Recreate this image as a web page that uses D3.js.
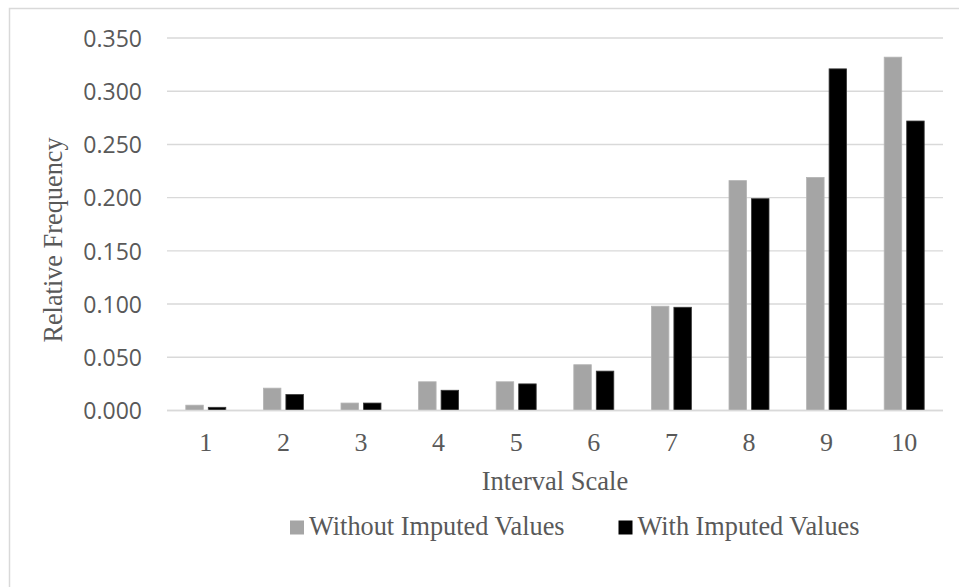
<!DOCTYPE html>
<html>
<head>
<meta charset="utf-8">
<script src="https://cdn.jsdelivr.net/npm/d3@7/dist/d3.min.js"></script>
<style>
  html, body { margin: 0; padding: 0; background: #fff; }
  svg { display: block; }
</style>
</head>
<body>
<svg id="chart" width="959" height="587"></svg>
<script>
// Interval scale categories and the relative frequency of each series
const categories = ["1", "2", "3", "4", "5", "6", "7", "8", "9", "10"];
const seriesNames = ["Without Imputed Values", "With Imputed Values"];
const withoutImputed = [0.005, 0.021, 0.007, 0.027, 0.027, 0.043, 0.098, 0.216, 0.219, 0.332];
const withImputed    = [0.003, 0.015, 0.007, 0.019, 0.025, 0.037, 0.097, 0.199, 0.321, 0.272];
const yTicks = [0, 0.05, 0.1, 0.15, 0.2, 0.25, 0.3, 0.35];

const fills = ["#a5a5a5", "#000000"];
const strokes = ["#b4b4b4", "#3a3a3a"];
const textColor = "#595959";
const gridColor = "#d9d9d9";

const svg = d3.select("#chart");

// chart frame
svg.append("rect")
  .attr("x", 9.5).attr("y", 8.5)
  .attr("width", 1000).attr("height", 700)
  .attr("fill", "none").attr("stroke", gridColor).attr("stroke-width", 1.5);

const plot = { left: 167, right: 943, top: 38, bottom: 410.5 };

const x = d3.scaleBand().domain(categories).range([plot.left, plot.right]).padding(0);
const y = d3.scaleLinear().domain([0, 0.35]).range([plot.bottom, plot.top]);
const xs = d3.scaleBand().domain(seriesNames).range([-20, 20]).paddingInner(0.222).paddingOuter(0);

// horizontal gridlines
svg.append("g").selectAll("line").data(yTicks).join("line")
  .attr("x1", plot.left).attr("x2", plot.right)
  .attr("y1", d => y(d)).attr("y2", d => y(d))
  .attr("stroke", gridColor).attr("stroke-width", 1.4);

// y axis tick labels
const yAxis = d3.axisLeft(y).tickValues(yTicks).tickFormat(d3.format(".3f")).tickSize(0).tickPadding(0);
const gy = svg.append("g").attr("transform", `translate(142,0)`).call(yAxis);
gy.select(".domain").remove();
gy.selectAll("text")
  .attr("fill", textColor)
  .attr("font-family", "'Open Sans', sans-serif")
  .attr("font-size", "23px")
  .attr("dy", "0.36em");

// bars
const series = [withoutImputed, withImputed];
series.forEach((vals, si) => {
  svg.append("g").selectAll("rect").data(vals).join("rect")
    .attr("x", (d, i) => x(categories[i]) + x.bandwidth() / 2 + xs(seriesNames[si]))
    .attr("y", d => y(d))
    .attr("width", xs.bandwidth())
    .attr("height", d => y(0) - y(d))
    .attr("fill", fills[si])
    .attr("stroke", strokes[si])
    .attr("stroke-width", 0.8);
});

// baseline
svg.append("line")
  .attr("x1", plot.left).attr("x2", plot.right)
  .attr("y1", y(0)).attr("y2", y(0))
  .attr("stroke", gridColor).attr("stroke-width", 1.4);

// x axis tick labels
const xAxis = d3.axisBottom(x).tickSize(0).tickPadding(0);
const gx = svg.append("g").attr("transform", `translate(0,451)`).call(xAxis);
gx.select(".domain").remove();
gx.selectAll("text")
  .attr("fill", textColor)
  .attr("font-family", "'Liberation Serif', 'Times New Roman', serif")
  .attr("font-size", "26px")
  .attr("dy", 0);

// axis titles
svg.append("text")
  .attr("x", (plot.left + plot.right) / 2).attr("y", 490)
  .attr("text-anchor", "middle")
  .attr("fill", textColor)
  .attr("font-family", "'Liberation Serif', 'Times New Roman', serif")
  .attr("font-size", "26.5px")
  .text("Interval Scale");

svg.append("text")
  .attr("transform", "translate(62,240) rotate(-90)")
  .attr("text-anchor", "middle")
  .attr("fill", textColor)
  .attr("font-family", "'Liberation Serif', 'Times New Roman', serif")
  .attr("font-size", "26.3px")
  .text("Relative Frequency");

// legend
const legendItems = [
  { name: seriesNames[0], fill: fills[0], sx: 290 },
  { name: seriesNames[1], fill: fills[1], sx: 618.5 }
];
const lg = svg.append("g");
legendItems.forEach(it => {
  lg.append("rect")
    .attr("x", it.sx).attr("y", 520.5)
    .attr("width", 14).attr("height", 14)
    .attr("fill", it.fill);
  lg.append("text")
    .attr("x", it.sx + 19).attr("y", 535)
    .attr("fill", textColor)
    .attr("font-family", "'Liberation Serif', 'Times New Roman', serif")
    .attr("font-size", "26.3px")
    .text(it.name);
});
</script>
</body>
</html>
